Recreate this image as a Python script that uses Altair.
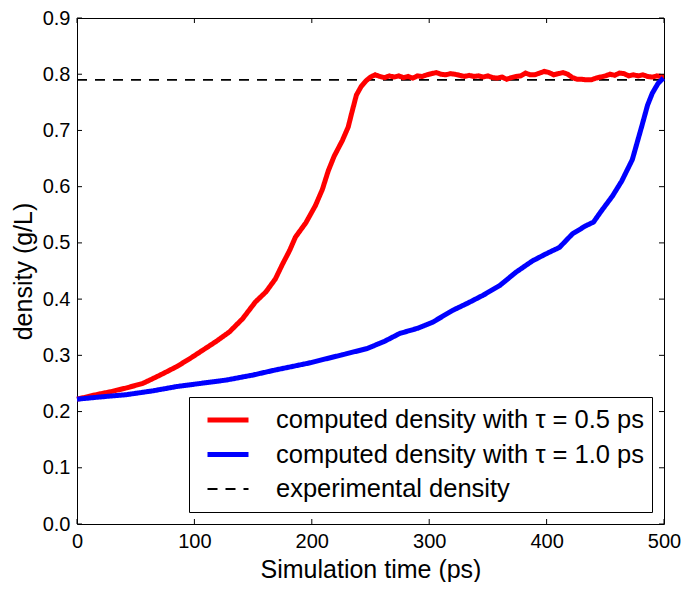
import altair as alt
import pandas as pd

FONT = "Liberation Sans"

LAB_RED = "computed density with τ = 0.5 ps"
LAB_BLUE = "computed density with τ = 1.0 ps"
LAB_EXP = "experimental density"

red_t = [0, 14, 28, 42, 56, 70, 85, 96, 107, 118, 130, 141, 152, 161, 169, 175,
         181, 186, 195, 203, 209, 214, 219, 226, 231, 234, 238, 242, 246, 250, 254,
         258, 262, 266, 270, 274, 278, 282, 286, 290, 294, 298, 302, 306, 310, 314,
         318, 322, 326, 330, 334, 338, 342, 346, 350, 354, 358, 362, 366, 370, 374,
         378, 382, 386, 390, 394, 398, 402, 406, 410, 414, 418, 422, 426, 430, 434,
         438, 442, 446, 450, 454, 458, 462, 466, 470, 474, 478, 482, 486, 490, 494,
         498, 500]
red_d = [0.222, 0.229, 0.235, 0.242, 0.250, 0.264, 0.280, 0.294, 0.309, 0.324, 0.342,
         0.365, 0.395, 0.413, 0.436, 0.462, 0.486, 0.510, 0.536, 0.566, 0.595, 0.628,
         0.654, 0.682, 0.706, 0.731, 0.763, 0.778, 0.788, 0.795, 0.799,
         0.796, 0.794, 0.797, 0.795, 0.797, 0.794, 0.796, 0.793, 0.797, 0.796, 0.799,
         0.801, 0.803, 0.800, 0.799, 0.801, 0.800, 0.798, 0.796, 0.798, 0.796, 0.797,
         0.795, 0.797, 0.794, 0.793, 0.795, 0.791, 0.794, 0.796, 0.797, 0.802, 0.799,
         0.799, 0.802, 0.805, 0.803, 0.799, 0.801, 0.803, 0.800, 0.794, 0.791, 0.791,
         0.790, 0.790, 0.793, 0.795, 0.797, 0.800, 0.798, 0.802, 0.801, 0.797, 0.799,
         0.797, 0.799, 0.796, 0.795, 0.797, 0.796, 0.796]

blue_t = [0, 20, 42, 65, 85, 105, 127, 150, 169, 197, 226, 247, 262, 275, 290, 303,
          320, 332, 346, 360, 374, 388, 399, 411, 422, 433, 440, 446, 456, 464, 473,
          481, 486, 490, 495, 499.5]
blue_d = [0.222, 0.226, 0.230, 0.237, 0.2445, 0.250, 0.256, 0.265, 0.274, 0.286,
          0.301, 0.312, 0.325, 0.339, 0.348, 0.359, 0.380, 0.392, 0.407, 0.424,
          0.448, 0.468, 0.480, 0.492, 0.516, 0.530, 0.537, 0.555, 0.583, 0.610,
          0.648, 0.707, 0.745, 0.766, 0.784, 0.793]

exp_t = [0, 500]
exp_d = [0.79, 0.79]

x_ticks = [0, 100, 200, 300, 400, 500]
y_ticks = [0.0, 0.1, 0.2, 0.3, 0.4, 0.5, 0.6, 0.7, 0.8, 0.9]
X_MIN, X_MAX = 0, 500
Y_MIN, Y_MAX = 0.0, 0.9

rows = []
for t, d in zip(exp_t, exp_d):
    rows.append({"t": t, "d": d, "s": LAB_EXP})
for t, d in zip(red_t, red_d):
    rows.append({"t": t, "d": d, "s": LAB_RED})
for t, d in zip(blue_t, blue_d):
    rows.append({"t": t, "d": d, "s": LAB_BLUE})
df = pd.DataFrame(rows)

# tick tables (frame ticks pointing inward, on all four sides)
yt_left = pd.DataFrame({"t": [X_MIN] * len(y_ticks), "d": y_ticks})
yt_right = pd.DataFrame({"t": [X_MAX] * len(y_ticks), "d": y_ticks})
xt_bottom = pd.DataFrame({"t": x_ticks, "d": [Y_MIN] * len(x_ticks)})
xt_top = pd.DataFrame({"t": x_ticks, "d": [Y_MAX] * len(x_ticks)})

dom = [LAB_RED, LAB_BLUE, LAB_EXP]
xs = alt.Scale(domain=[X_MIN, X_MAX], nice=False, zero=False)
ys = alt.Scale(domain=[Y_MIN, Y_MAX], nice=False, zero=False)

common_axis = dict(ticks=False, domain=False, grid=False,
                   labelFont=FONT, labelFontSize=20, labelColor="black",
                   labelPadding=7, titleFont=FONT, titleFontSize=25,
                   titleColor="black", titleFontWeight="normal", labelFlush=False,
                   labelOverlap=False)

x_enc = alt.X("t:Q", scale=xs, axis=alt.Axis(
    orient="bottom", values=x_ticks, format="d",
    title="Simulation time (ps)", titleY=53, titleBaseline="alphabetic",
    **common_axis))
y_enc = alt.Y("d:Q", scale=ys, axis=alt.Axis(
    orient="left", values=y_ticks, format=".1f",
    title="density (g/L)", titleX=-46, titleY=253, titleAngle=270,
    titleAlign="center", titleBaseline="alphabetic", **common_axis))

leg = alt.Legend(title=None)
color = alt.Color("s:N", sort=dom, scale=alt.Scale(domain=dom, range=["#ff0000", "#0000ff", "#000000"]), legend=leg)
dash = alt.StrokeDash("s:N", sort=dom, scale=alt.Scale(domain=dom, range=[[1, 0], [1, 0], [10, 8]]), legend=leg)
sw = alt.StrokeWidth("s:N", sort=dom, scale=alt.Scale(type="ordinal", domain=dom, range=[5, 5, 1.8]), legend=leg)

base = alt.Chart(df).encode(x=x_enc, y=y_enc, color=color, strokeDash=dash, strokeWidth=sw)

exp_layer = base.transform_filter(alt.datum.s == LAB_EXP).mark_line()
red_layer = base.transform_filter(alt.datum.s == LAB_RED).mark_line()
blue_layer = base.transform_filter(alt.datum.s == LAB_BLUE).mark_line()

tick_style = dict(color="black", opacity=1, size=5, thickness=1)
t_left = alt.Chart(yt_left).mark_tick(orient="horizontal", xOffset=2.5, **tick_style).encode(x=x_enc, y=y_enc)
t_right = alt.Chart(yt_right).mark_tick(orient="horizontal", xOffset=-2.5, **tick_style).encode(x=x_enc, y=y_enc)
t_bottom = alt.Chart(xt_bottom).mark_tick(orient="vertical", yOffset=-2.5, **tick_style).encode(x=x_enc, y=y_enc)
t_top = alt.Chart(xt_top).mark_tick(orient="vertical", yOffset=2.5, **tick_style).encode(x=x_enc, y=y_enc)

chart = alt.layer(
    exp_layer, red_layer, blue_layer, t_left, t_right, t_bottom, t_top
).properties(
    width=587, height=506,
    autosize=alt.AutoSizeParams(type="none"),
    padding={"left": 69, "top": 10, "right": 17, "bottom": 58},
).configure_view(
    stroke="black", strokeWidth=1
).configure_legend(
    orient="bottom-right", offset=12, strokeColor="black", padding=8,
    fillColor="white", labelFont=FONT, labelFontSize=25.5, labelColor="black",
    labelLimit=0, symbolType="stroke", symbolSize=1681, labelOffset=25,
    rowPadding=4.5, clipHeight=30, symbolOffset=8, cornerRadius=0,
)

chart.save("out.html", embed_options={"renderer": "svg", "actions": False})
